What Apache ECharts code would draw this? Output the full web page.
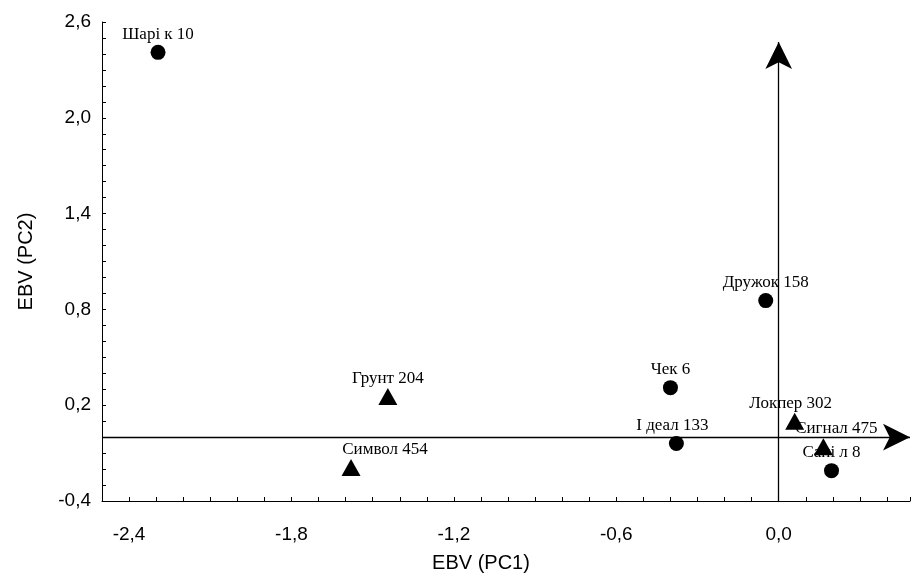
<!DOCTYPE html>
<html>
<head>
<meta charset="utf-8">
<script src="https://cdn.jsdelivr.net/npm/echarts@6/dist/echarts.min.js"></script>
<style>
  html, body { margin: 0; padding: 0; background: #fff; }
  .chart { width: 913px; height: 578px; }
</style>
</head>
<body>
<div class="chart"></div>
<script>
// data
var circleNames = ['Шарі к 10', 'Дружок 158', 'Чек 6', 'І деал 133', 'Сані л 8'];
var circlePC1 = [-2.293, -0.048, -0.40, -0.378, 0.195];
var circlePC2 = [2.41, 0.855, 0.31, -0.04, -0.21];

var triangleNames = ['Грунт 204', 'Символ 454', 'Локпер 302', 'Сигнал 475'];
var trianglePC1 = [-1.444, -1.58, 0.059, 0.165];
var trianglePC2 = [0.255, -0.19, 0.10, -0.06];

var xTicks = [-2.4, -1.8, -1.2, -0.6, 0.0];
var yTicks = [-0.4, 0.2, 0.8, 1.4, 2.0, 2.6];

// label shifts (px) so texts sit like in the original
var labelShift = { 'Символ 454': [34, 0], 'Сигнал 475': [13, 0], 'І деал 133': [-4, 0], 'Локпер 302': [-4, 0] };

function fmt(v) {
    return v.toFixed(1).replace('.', ',');
}
function isTick(list, v) {
    for (var i = 0; i < list.length; i++) {
        if (Math.abs(list[i] - v) < 1e-6) return true;
    }
    return false;
}
function makeData(names, xs, ys) {
    return names.map(function (n, i) {
        var item = { name: n, value: [xs[i], ys[i]] };
        if (labelShift[n]) item.label = { offset: labelShift[n] };
        return item;
    });
}

var myChart = echarts.init(document.querySelector('.chart'));
var labelFont = { fontFamily: 'Liberation Serif', fontSize: 17, color: '#000' };
var option = {
    animation: false,
    grid: { left: 102, right: 0, top: 22, bottom: 76 },
    xAxis: {
        type: 'value',
        min: -2.5,
        max: 0.485,
        interval: 0.1,
        name: 'EBV (PC1)',
        nameLocation: 'middle',
        nameGap: 52,
        nameTextStyle: { fontFamily: 'Liberation Sans', fontSize: 20, color: '#000', padding: [0, 50, 0, 0] },
        axisLine: { onZero: false, lineStyle: { color: '#000', width: 1 } },
        axisTick: { inside: true, length: 4, lineStyle: { color: '#000' } },
        axisLabel: {
            margin: 24,
            fontFamily: 'Liberation Sans', fontSize: 19, color: '#000',
            formatter: function (v) { return isTick(xTicks, v) ? fmt(v) : ''; }
        },
        splitLine: { show: false }
    },
    yAxis: {
        type: 'value',
        min: -0.4,
        max: 2.6,
        interval: 0.1,
        name: 'EBV (PC2)',
        nameLocation: 'middle',
        nameGap: 66,
        nameTextStyle: { fontFamily: 'Liberation Sans', fontSize: 20, color: '#000' },
        axisLine: { show: true, onZero: false, lineStyle: { color: '#000', width: 1 } },
        axisTick: { show: true, inside: true, length: 4, lineStyle: { color: '#000' } },
        axisLabel: {
            margin: 11,
            fontFamily: 'Liberation Sans', fontSize: 19, color: '#000',
            formatter: function (v) { return isTick(yTicks, v) ? fmt(v) : ''; }
        },
        splitLine: { show: false }
    },
    series: [
        {
            name: 'circles',
            type: 'scatter',
            symbol: 'circle',
            symbolSize: 15,
            itemStyle: { color: '#000', opacity: 1 },
            label: Object.assign({ show: true, position: 'top', distance: 2, formatter: '{b}' }, labelFont),
            data: makeData(circleNames, circlePC1, circlePC2),
            markLine: {
                silent: true,
                symbol: ['none', 'arrow'],
                symbolSize: [20, 27],
                label: { show: false },
                lineStyle: { color: '#000', width: 1.3, type: 'solid' },
                data: [
                    [{ coord: [0, -0.4] }, { coord: [0, 2.475] }],
                    [{ coord: [-2.5, 0] }, { coord: [0.485, 0] }]
                ]
            }
        },
        {
            name: 'triangles',
            type: 'scatter',
            symbol: 'triangle',
            symbolSize: [19, 17],
            itemStyle: { color: '#000', opacity: 1 },
            label: Object.assign({ show: true, position: 'top', distance: 1, formatter: '{b}' }, labelFont),
            data: makeData(triangleNames, trianglePC1, trianglePC2)
        }
    ]
};
myChart.setOption(option);
</script>
</body>
</html>
